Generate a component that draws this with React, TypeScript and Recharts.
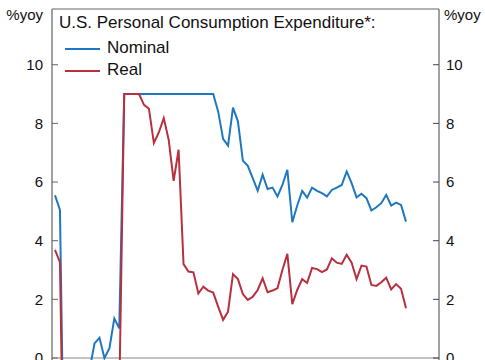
import React from 'react';
import { LineChart, Line, XAxis, YAxis, ReferenceLine } from 'recharts';

const monthNames = ['Jan', 'Feb', 'Mar', 'Apr', 'May', 'Jun', 'Jul', 'Aug', 'Sep', 'Oct', 'Nov', 'Dec'];
const years = ['20', '21', '22', '23', '24', '25'];

// %yoy, values capped at 9 as in the original chart
const nominal = [
  5.55, 5.05, -6, -17, -11, -5, -3.5, -0.4, 0.5, 0.69, 0.0, 0.33, 1.35, 1.01,
  9, 9, 9, 9, 9, 9, 9, 9, 9, 9, 9, 9, 9, 9, 9, 9, 9, 9, 9,
  8.41, 7.47, 7.24, 8.54, 8.07, 6.73, 6.55, 6.13, 5.7, 6.25, 5.76, 5.81, 5.51,
  5.9, 6.42, 4.63, 5.2, 5.7, 5.47, 5.81, 5.7, 5.62, 5.51, 5.73, 5.81, 5.9, 6.36,
  5.96, 5.48, 5.6, 5.45, 5.03, 5.14, 5.28, 5.56, 5.2, 5.3, 5.22, 4.65,
];
const real = [
  3.69, 3.27, -7, -18, -12, -6, -4.5, -3.5, -2.5, -2, -2, -2, -1.5, -1.3,
  9, 9, 9, 9, 8.63, 8.5, 7.33, 7.69, 8.18, 7.44, 6.04, 7.1,
  3.2, 2.95, 2.92, 2.2, 2.43, 2.3, 2.23, 1.75, 1.3, 1.58, 2.86, 2.69, 2.18, 1.98,
  2.09, 2.32, 2.72, 2.24, 2.3, 2.38, 3.0, 3.55, 1.84, 2.32, 2.69, 2.56, 3.07, 3.03,
  2.93, 3.02, 3.4, 3.25, 3.21, 3.52, 3.25, 2.69, 3.15, 3.12, 2.49, 2.46, 2.58, 2.74,
  2.34, 2.52, 2.36, 1.7,
];
const yTicks = [0, 2, 4, 6, 8, 10];

const months = years.flatMap((y) => monthNames.map((m) => `${m}-${y}`));
const data = months.map((month, i) => ({ month, nominal: nominal[i], real: real[i] }));

const FONT = '"Liberation Sans", Arial, Helvetica, sans-serif';
const BLUE = '#1f78bf';
const RED = '#b8303e';
const TEXT = '#111';
const LEFT_MARGIN = 9;
const RIGHT_MARGIN = 7;

function LeftTick(props: any) {
  const { x, y, payload } = props;
  const ax = x + LEFT_MARGIN;
  return (
    <g>
      <line x1={ax} x2={ax + 6} y1={y} y2={y} stroke="#666" strokeWidth={1} />
      <text x={x} y={y} dy="0.355em" textAnchor="end" fontSize={15} fill={TEXT} fontFamily={FONT}>
        {payload.value}
      </text>
    </g>
  );
}

function RightTick(props: any) {
  const { x, y, payload } = props;
  const ax = x - RIGHT_MARGIN;
  return (
    <g>
      <line x1={ax - 6} x2={ax} y1={y} y2={y} stroke="#444" strokeWidth={1} />
      <text x={x} y={y} dy="0.355em" textAnchor="start" fontSize={15} fill={TEXT} fontFamily={FONT}>
        {payload.value}
      </text>
    </g>
  );
}

export default function App() {
  return (
    <div
      style={{
        position: 'fixed',
        left: 0,
        top: 0,
        width: 485,
        height: 360,
        overflow: 'hidden',
        background: '#fff',
        fontFamily: FONT,
      }}
    >
      <LineChart width={485} height={446} data={data} margin={{ top: 9, right: 0, left: 0, bottom: 0 }}>
        <XAxis dataKey="month" hide padding={{ left: 3, right: 33 }} />
        <YAxis
          yAxisId="left"
          width={52}
          domain={[-3, 11.9]}
          allowDataOverflow
          ticks={yTicks}
          interval={0}
          tickSize={0}
          tickMargin={LEFT_MARGIN}
          tickLine={false}
          axisLine={{ stroke: '#808080', strokeWidth: 1.5 }}
          tick={<LeftTick />}
        />
        <YAxis
          yAxisId="right"
          orientation="right"
          width={46}
          domain={[-3, 11.9]}
          allowDataOverflow
          ticks={yTicks}
          interval={0}
          tickSize={0}
          tickMargin={RIGHT_MARGIN}
          tickLine={false}
          axisLine={{ stroke: '#444', strokeWidth: 1 }}
          tick={<RightTick />}
        />
        <ReferenceLine yAxisId="left" y={11.9} stroke="#666" strokeWidth={1.2} />
        <ReferenceLine yAxisId="left" y={0} stroke="#888" strokeWidth={1.2} />
        <Line
          yAxisId="left"
          type="linear"
          dataKey="nominal"
          stroke={BLUE}
          strokeWidth={2}
          dot={false}
          isAnimationActive={false}
        />
        <Line
          yAxisId="left"
          type="linear"
          dataKey="real"
          stroke={RED}
          strokeWidth={2}
          dot={false}
          isAnimationActive={false}
        />
      </LineChart>
      <svg
        width={485}
        height={360}
        style={{ position: 'absolute', left: 0, top: 0, pointerEvents: 'none' }}
      >
        <text x={43} y={20} textAnchor="end" fontSize={15} fill={TEXT} fontFamily={FONT}>
          %yoy
        </text>
        <text x={444} y={20} textAnchor="start" fontSize={15} fill={TEXT} fontFamily={FONT}>
          %yoy
        </text>
        <text x={59} y={28} fontSize={17} fill={TEXT} fontFamily={FONT}>
          U.S. Personal Consumption Expenditure*:
        </text>
        <line x1={65} x2={100} y1={49} y2={49} stroke={BLUE} strokeWidth={2} />
        <text x={107} y={53} fontSize={17} fill={TEXT} fontFamily={FONT}>
          Nominal
        </text>
        <line x1={65} x2={100} y1={71} y2={71} stroke={RED} strokeWidth={2} />
        <text x={107} y={75} fontSize={17} fill={TEXT} fontFamily={FONT}>
          Real
        </text>
      </svg>
    </div>
  );
}
